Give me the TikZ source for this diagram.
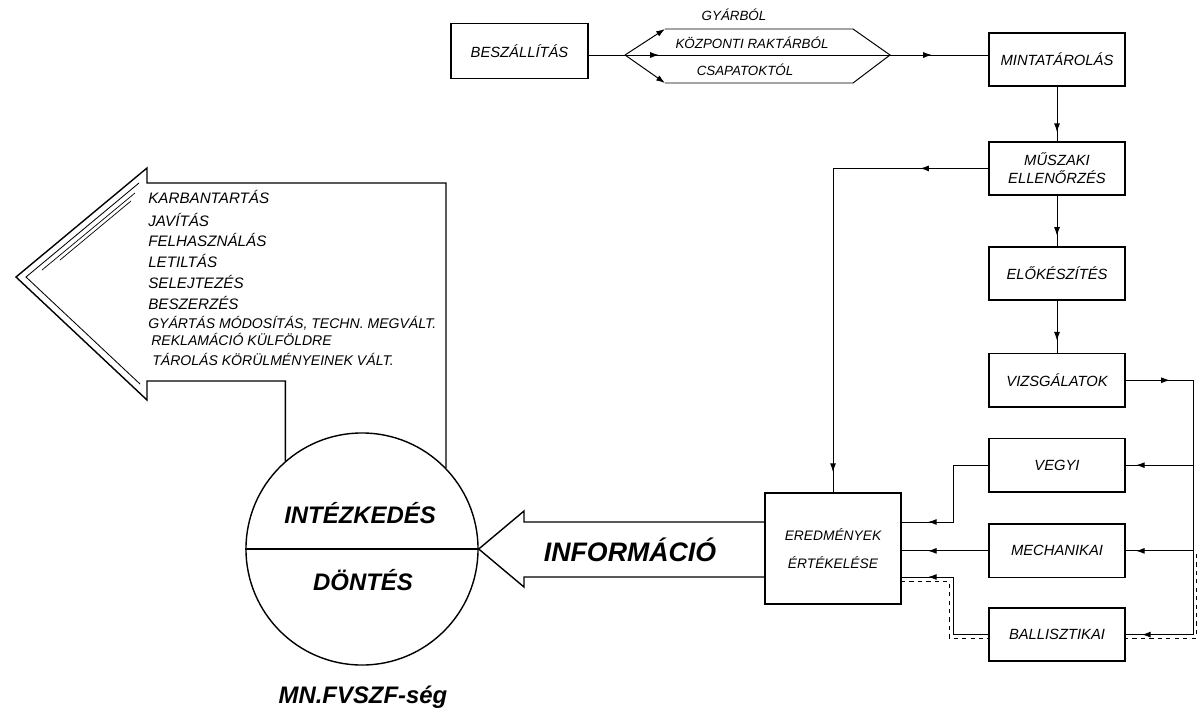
\documentclass[tikz,border=0pt]{standalone}
\usepackage{fontspec}
\setmainfont{Liberation Sans}
\usetikzlibrary{arrows.meta, positioning, calc, decorations.markings}
\tikzset{
  stepbox/.style={rectangle, draw, line width=1.2pt, minimum width=3.4cm, minimum height=1.33cm, align=center, font=\itshape\fontsize{10.5}{13}\selectfont},
  link/.style={line width=0.7pt},
  arr/.style={-{Latex[length=2.2mm,width=1.5mm]}, line width=0.7pt},
  tipmark/.style={postaction={decorate}, decoration={markings, mark=at position #1 with {\arrow{Latex[length=2.2mm,width=1.5mm]}}}},
  twomarks/.style n args={2}{postaction={decorate}, decoration={markings,
      mark=at position #1 with {\arrow{Latex[length=2.2mm,width=1.5mm]}},
      mark=at position #2 with {\arrow{Latex[length=2.2mm,width=1.5mm]}}}},
  srclabel/.style={font=\itshape\fontsize{9.5}{11}\selectfont, inner sep=0pt},
  listitem/.style={anchor=base west, inner sep=0pt, font=\itshape\fontsize{10.8}{13}\selectfont},
  listsmall/.style={listitem, font=\itshape\fontsize{10}{12}\selectfont},
  bigtext/.style={font=\bfseries\itshape\fontsize{17}{20}\selectfont, inner sep=0pt},
}
\begin{document}
\begin{tikzpicture}[x=0.025cm, y=-0.025cm, node distance=1.3cm]
  \useasboundingbox (0,0) rectangle (1202,717);

  % Supply and sources
  \node[stepbox, minimum width=3.425cm, minimum height=1.38cm] (supply) at (519.5,51) {BESZÁLLÍTÁS};
  \coordinate (hexL) at (625,55);
  \coordinate (hexTL) at (665,29);
  \coordinate (hexTR) at (853,29);
  \coordinate (hexR) at (890,55);
  \coordinate (hexBR) at (853,83);
  \coordinate (hexBL) at (665,83);
  \node[srclabel] (factory) at (734,15) {GYÁRBÓL};
  \node[srclabel] (depot) at (752,43) {KÖZPONTI RAKTÁRBÓL};
  \node[srclabel] (troops) at (745,70) {CSAPATOKTÓL};

  % Test column
  \node[stepbox] (storage) at (1057,59.5) {MINTATÁROLÁS};
  \node[stepbox, below=1.35cm of storage] (techcheck) {MŰSZAKI\\ELLENŐRZÉS};
  \node[stepbox, below=1.25cm of techcheck] (prep) {ELŐKÉSZÍTÉS};
  \node[stepbox, below=1.3cm of prep] (tests) {VIZSGÁLATOK};
  \node[stepbox, below=0.75cm of tests] (chemical) {VEGYI};
  \node[stepbox, below=0.77cm of chemical] (mechanical) {MECHANIKAI};
  \node[stepbox, below=0.72cm of mechanical] (ballistic) {BALLISZTIKAI};

  % Evaluation
  \node[stepbox, minimum height=2.775cm, font=\itshape\fontsize{9.8}{13}\selectfont] (evaluation) at (833,548.5) {EREDMÉNYEK\\[7pt]ÉRTÉKELÉSE};

  % Decision circle
  \node[circle, draw, line width=1pt, minimum size=5.8cm, inner sep=0pt] (decision) at (362,549) {};
  \draw[line width=1pt] (decision.west) -- (decision.east);
  \node[bigtext] (act) at (360,513) {INTÉZKEDÉS};
  \node[bigtext] (verdict) at (363,580) {DÖNTÉS};
  \node[bigtext] (org) at (363,697) {MN.FVSZF-ség};

  % Information arrow
  \coordinate (infoTop) at (524,522);
  \coordinate (infoBot) at (524,577);
  \draw[line width=1pt] (evaluation.west |- infoTop) -- (infoTop) -- (524,511) -- (decision.east)
    -- (524,587) -- (infoBot) -- (evaluation.west |- infoBot);
  \node[font=\bfseries\itshape\fontsize{19}{22}\selectfont, inner sep=0pt] (info) at (630,550) {INFORMÁCIÓ};

  % Measures arrow
  \coordinate (armTop) at (147,183);
  \coordinate (armBot) at (147,381);
  \draw[line width=1pt] (decision.131) -- (decision.131 |- armBot) -- (armBot) -- (147,400) -- (16,277)
    -- (147,168) -- (armTop) -- (decision.44 |- armTop) -- (decision.44);
  \draw[line width=0.6pt] (139,183) -- (26,277) -- (140,384);
  \draw[line width=0.5pt] (135,193) -- (42,270) (131,201) -- (60,260);
  \node[listitem] (maint) at (148,203) {KARBANTARTÁS};
  \node[listitem] (repair) at (148,226) {JAVÍTÁS};
  \node[listitem] (use) at (148,246) {FELHASZNÁLÁS};
  \node[listitem] (ban) at (148,267) {LETILTÁS};
  \node[listitem] (scrap) at (148,288) {SELEJTEZÉS};
  \node[listitem] (purchase) at (148,309) {BESZERZÉS};
  \node[listsmall] (modify) at (148,328) {GYÁRTÁS MÓDOSÍTÁS, TECHN. MEGVÁLT.};
  \node[listsmall] (claim) at (151,345) {REKLAMÁCIÓ KÜLFÖLDRE};
  \node[listsmall] (keeping) at (152,365) {TÁROLÁS KÖRÜLMÉNYEINEK VÁLT.};

  % Supply connectors
  \draw[link] (supply.east |- hexL) -- (hexL);
  \draw[arr] (hexL) -- (hexTL);
  \draw[arr] (hexL) -- (hexBL);
  \draw[link] (hexTL) -- (hexTR) -- (hexR) -- (hexBR) -- (hexBL);
  \draw[link, tipmark=0.85cm] (hexL) -- (hexR);
  \draw[link, tipmark=1.05cm] (hexR) -- (hexR -| storage.west);

  % Column connectors
  \draw[link, tipmark=-0.22cm] (storage) -- (techcheck);
  \draw[link, tipmark=-0.25cm] (techcheck) -- (prep);
  \draw[link, tipmark=-0.3cm] (prep) -- (tests);
  \draw[link, twomarks={1.7cm}{-0.5cm}] (techcheck.west) -- (evaluation.north |- techcheck.west) -- (evaluation.north);

  % Test branches
  \coordinate (trunk) at (1193,0);
  \coordinate (jog) at (953,0);
  \draw[link, tipmark=1.1cm] (tests.east) -- (tests.east -| trunk) -- (ballistic.east -| trunk);
  \draw[link, tipmark=-0.25cm] (chemical.east -| trunk) -- (chemical.east);
  \draw[link, tipmark=-0.25cm] (mechanical.east -| trunk) -- (mechanical.east);
  \draw[link, tipmark=-0.4cm] (ballistic.east -| trunk) -- (ballistic.east);
  \draw[link, tipmark=-0.65cm] (chemical.west) -- (chemical.west -| jog) -- (jog |- infoTop) -- (evaluation.east |- infoTop);
  \draw[link, tipmark=-0.65cm] (mechanical.west) -- (evaluation.east |- mechanical.west);
  \draw[link, tipmark=-0.65cm] (ballistic.west) -- (ballistic.west -| jog) -- (jog |- infoBot) -- (evaluation.east |- infoBot);
  \draw[line width=0.5pt, dashed] (901,581) -- (949,581) -- (949,638) -- (989,638);
  \draw[line width=0.5pt, dashed] (1124,638) -- (1196,638) -- (1196,553);
\end{tikzpicture}
\end{document}
